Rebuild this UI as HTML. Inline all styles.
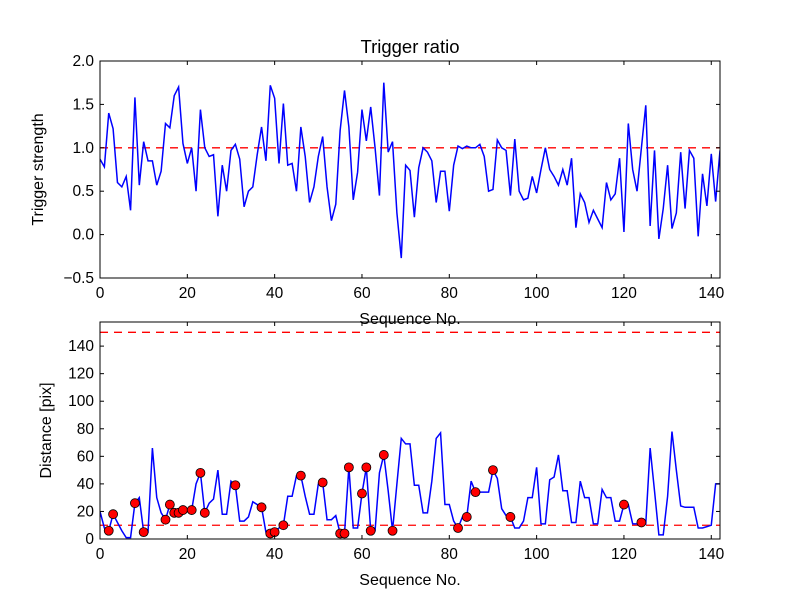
<!DOCTYPE html>
<html><head><meta charset="utf-8"><style>
body{margin:0;background:#fff}
svg{display:block;font-family:"Liberation Sans","DejaVu Sans",sans-serif}
</style></head><body>
<svg id="fig" width="800" height="600" viewBox="0 0 800 600">
<defs>
<clipPath id="clipTop"><rect x="100" y="61" width="620" height="217"/></clipPath>
<clipPath id="clipBot"><rect x="100" y="322" width="620" height="217"/></clipPath>
</defs>
</svg>
<script>
const ratio=[0.87,0.78,1.4,1.22,0.6,0.55,0.67,0.28,1.58,0.57,1.07,0.85,0.85,0.57,0.73,1.28,1.23,1.6,1.7,1.05,0.82,1.0,0.5,1.44,1.0,0.9,0.92,0.21,0.8,0.5,0.97,1.04,0.87,0.32,0.5,0.55,0.92,1.24,0.85,1.72,1.57,0.82,1.51,0.8,0.82,0.5,1.24,0.9,0.37,0.55,0.9,1.13,0.55,0.16,0.35,1.2,1.66,1.24,0.4,0.72,1.44,1.08,1.47,1.0,0.45,1.75,0.95,1.07,0.25,-0.27,0.8,0.74,0.2,0.77,1.0,0.95,0.85,0.37,0.73,0.73,0.27,0.8,1.02,0.99,1.02,1.0,1.0,1.04,0.9,0.5,0.52,1.09,1.0,0.97,0.45,1.1,0.5,0.4,0.42,0.67,0.48,0.75,1.0,0.75,0.67,0.57,0.75,0.57,0.88,0.08,0.47,0.37,0.14,0.28,0.18,0.08,0.6,0.4,0.47,0.88,0.03,1.28,0.75,0.5,1.0,1.49,0.1,0.97,-0.05,0.3,0.8,0.07,0.25,0.95,0.3,0.97,0.88,-0.02,0.7,0.33,0.93,0.38,0.97,0.7];
const dist=[20,8,6,18,12,6,1,1,26,30,5,5,66,30,19,14,25,19,19,21,20,21,40,48,19,26,29,50,18,18,42,39,13,13,16,27,25,23,5,4,5,8,10,31,31,46,46,31,18,18,40,41,14,14,17,4,4,52,8,8,33,52,6,6,48,61,35,6,40,73,69,69,39,39,19,19,42,73,77,25,25,13,8,16,16,42,34,34,34,34,50,44,22,17,16,8,8,13,30,30,52,11,11,43,45,61,35,35,12,12,42,30,30,11,11,36,30,30,13,13,25,25,11,11,12,11,66,35,3,3,31,78,50,24,23,23,23,8,8,9,10,40,40];
const markIdx=[2,3,8,10,15,16,17,18,19,21,23,24,31,37,39,40,42,46,51,55,56,57,60,61,62,65,67,82,84,86,90,94,120,124];
const xTicks=[0,20,40,60,80,100,120,140];
const yTicksTop=[-0.5,0.0,0.5,1.0,1.5,2.0];
const yTicksBot=[0,20,40,60,80,100,120,140];
const topThresh=1.0, botThresh=[10,150];

const svg=document.getElementById('fig');
const NS='http://www.w3.org/2000/svg';
function mk(t,a,parent){const e=document.createElementNS(NS,t);for(const k in a)e.setAttribute(k,a[k]);(parent||svg).appendChild(e);return e;}
const L=100,R=720;
const xs=v=>L+(v/142)*(R-L);
function axes(top,bot,ymin,ymax,yt,fmt,ylabel,name,ylx){
  const g=mk('g',{});
  
  
  const ys=v=>bot-(v-ymin)/(ymax-ymin)*(bot-top);
  return {g,ys,draw(){
    const fr=mk('rect',{x:L,y:top,width:R-L,height:bot-top,fill:'none',stroke:'#000','stroke-width':1},g);
    
    xTicks.forEach(t=>{const x=xs(t);
      mk('line',{x1:x,x2:x,y1:bot,y2:bot-4,stroke:'#000'},g);mk('line',{x1:x,x2:x,y1:top,y2:top+4,stroke:'#000'},g);
      const tx=mk('text',{x:x,y:bot+20,'text-anchor':'middle','font-size':15.5},g);tx.textContent=t;
      });
    yt.forEach(t=>{const y=ys(t);
      mk('line',{x1:L,x2:L+4,y1:y,y2:y,stroke:'#000'},g);mk('line',{x1:R,x2:R-4,y1:y,y2:y,stroke:'#000'},g);
      const tx=mk('text',{x:L-6,y:y+5,'text-anchor':'end','font-size':15.5},g);tx.textContent=fmt(t);
      });
    const xl=mk('text',{x:(L+R)/2,y:bot+46,'text-anchor':'middle','font-size':16},g);xl.textContent='Sequence No.';
    
    const yl=mk('text',{x:0,y:0,'text-anchor':'middle','font-size':16,transform:`translate(${ylx},${(top+bot)/2}) rotate(-90)`},g);yl.textContent=ylabel;
    
  }};
}
// top
const A=axes(61,278,-0.5,2.0,yTicksTop,t=>t.toFixed(1).replace('-','\u2212'),'Trigger strength','top-axes',43);
const th=mk('line',{x1:L,x2:R,y1:A.ys(topThresh),y2:A.ys(topThresh),stroke:'#f00','stroke-dasharray':'8,6','stroke-width':1.3},A.g);

const p1=mk('polyline',{points:ratio.map((v,i)=>xs(i)+','+A.ys(v)).join(' '),fill:'none',stroke:'#00f','stroke-width':1.5,'clip-path':'url(#clipTop)'},A.g);

A.draw();
const ti=mk('text',{x:410,y:53,'text-anchor':'middle','font-size':18.5});ti.textContent='Trigger ratio';

// bottom
const B=axes(322,539,0,157.5,yTicksBot,t=>String(t),'Distance [pix]','bottom-axes',51);
botThresh.forEach(v=>{const l=mk('line',{x1:L,x2:R,y1:B.ys(v),y2:B.ys(v),stroke:'#f00','stroke-dasharray':'8,6','stroke-width':1.3},B.g);
  });
const p2=mk('polyline',{points:dist.map((v,i)=>xs(i)+','+B.ys(v)).join(' '),fill:'none',stroke:'#00f','stroke-width':1.5,'clip-path':'url(#clipBot)'},B.g);

markIdx.forEach(i=>{const c=mk('circle',{cx:xs(i),cy:B.ys(dist[i]),r:4.5,fill:'#f00',stroke:'#000','stroke-width':0.8},B.g);
  });
B.draw();
</script>
</body></html>
